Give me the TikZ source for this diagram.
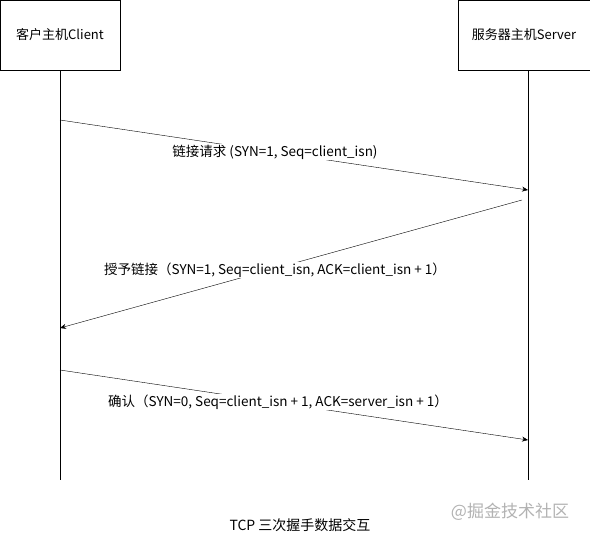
\documentclass[tikz,border=0pt]{standalone}
\usepackage{fontspec}
\setmainfont{Noto Sans CJK SC}
\usetikzlibrary{arrows.meta}
\begin{document}
\begin{tikzpicture}[x=1pt,y=-1pt,
  box/.style={draw,thick,minimum height=70pt,inner sep=0pt,font=\fontsize{13}{15}\selectfont},
  msg/.style={-{Stealth[length=6pt,width=5pt]}},
  lab/.style={fill=white,inner sep=1pt,font=\fontsize{13.5}{16}\selectfont}]
\useasboundingbox (0,0) rectangle (590,538);
\node[box,minimum width=120pt] (c) at (60,35) {客户主机Client};
\node[box,minimum width=132pt] (s) at (524,35) {服务器主机Server};
\coordinate (ce) at (60,480);
\coordinate (se) at (528,480);
\coordinate (sc) at (528,70);
\draw (c.south) -- (ce);
\draw (sc) -- (se);
\coordinate (a1) at (60,120); \coordinate (b1) at (528,190);
\coordinate (a2) at (522,200); \coordinate (b2) at (60,328);
\coordinate (a3) at (60,370); \coordinate (b3) at (528,440);
\draw[msg] (a1) -- (b1);
\draw[msg] (a2) -- (b2);
\draw[msg] (a3) -- (b3);
\node[lab] (l1) at (275,152) {链接请求 (SYN=1, Seq=client\_isn)};
\node[lab] (l2) at (275,270) {授予链接（SYN=1, Seq=client\_isn, ACK=client\_isn + 1）};
\node[lab] (l3) at (278,402) {确认（SYN=0, Seq=client\_isn + 1, ACK=server\_isn + 1）};
\node[font=\fontsize{14}{16}\selectfont] (cap) at (300,525) {TCP 三次握手数据交互};
\node[font=\fontsize{17}{19}\selectfont,text=gray!60] (wm) at (510,512) {@掘金技术社区};
\end{tikzpicture}
\end{document}
